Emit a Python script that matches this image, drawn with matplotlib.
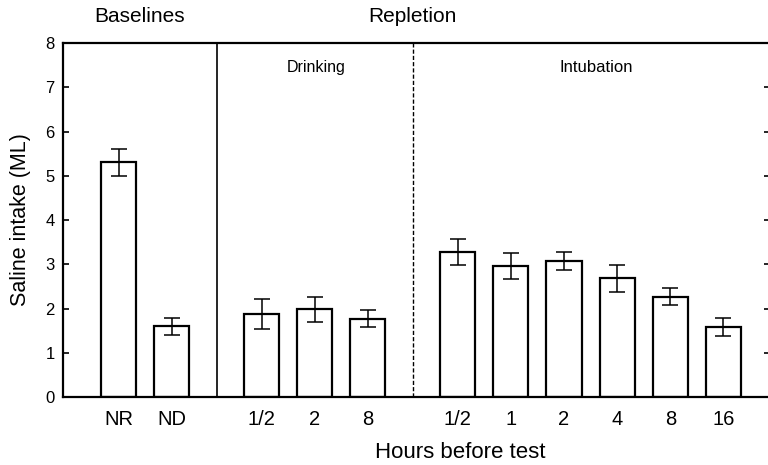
#!/usr/bin/env python3

import matplotlib
matplotlib.use('Agg')
import matplotlib.pyplot as plt
import numpy as np

plt.rcParams['font.family'] = ['Liberation Sans', 'DejaVu Sans']

# bar labels, group membership, means and error (SEM)
labels = ['NR', 'ND', '1/2', '2', '8', '1/2', '1', '2', '4', '8', '16']
groups = [0, 0, 1, 1, 1, 2, 2, 2, 2, 2, 2]
means = [5.30, 1.60, 1.88, 1.98, 1.77, 3.28, 2.96, 3.08, 2.68, 2.27, 1.58]
errs = [0.31, 0.19, 0.34, 0.29, 0.19, 0.30, 0.29, 0.20, 0.30, 0.20, 0.20]
yticks = [0, 1, 2, 3, 4, 5, 6, 7, 8]

gap = 0.69  # extra space between groups
x = np.arange(len(labels)) + gap*np.array(groups)

fig = plt.figure(figsize=(7.68, 4.65), dpi=100)
ax = fig.add_axes([63/768, 1 - 397/465, (770 - 63)/768, (397 - 43)/465])

ax.bar(x, means, width=0.66, color='white', edgecolor='black', linewidth=1.6, zorder=2)
ax.errorbar(x, means, yerr=errs, fmt='none', ecolor='black', elinewidth=1.1,
            capsize=6, capthick=1.1, zorder=3)

# group separators
sep1 = (x[1] + x[2])/2
sep2 = (x[4] + x[5])/2
ax.axvline(sep1, color='black', lw=1.2, zorder=1)
ax.axvline(sep2, color='black', lw=1.0, ls=(0, (3, 1.5)), zorder=1)

ax.set_xlim(-1.044, 12.255)
ax.set_ylim(0, 8)
ax.set_yticks(yticks)
ax.set_xticks(x)
ax.set_xticklabels(labels, fontsize=14.5)
ax.tick_params(axis='x', length=0, pad=9)
ax.tick_params(axis='y', direction='in', length=4, width=1.2, labelsize=12, pad=6,
               right=True)
for sp in ax.spines.values():
    sp.set_linewidth(1.6)

ax.set_ylabel('Saline intake (ML)', fontsize=15.5, labelpad=10)
fig.text(460/768, 1 - 452/465, 'Hours before test', fontsize=16, ha='center', va='center')

# group headings
ax.text((x[0] + x[1])/2 - 0.1, 8.6, 'Baselines', fontsize=15, ha='center', va='center')
ax.text(sep2, 8.6, 'Repletion', fontsize=15, ha='center', va='center')
ax.text(3.72, 7.45, 'Drinking', fontsize=11.5, ha='center', va='center')
ax.text(8.98, 7.45, 'Intubation', fontsize=12, ha='center', va='center')

fig.savefig('out.png', dpi=100)
